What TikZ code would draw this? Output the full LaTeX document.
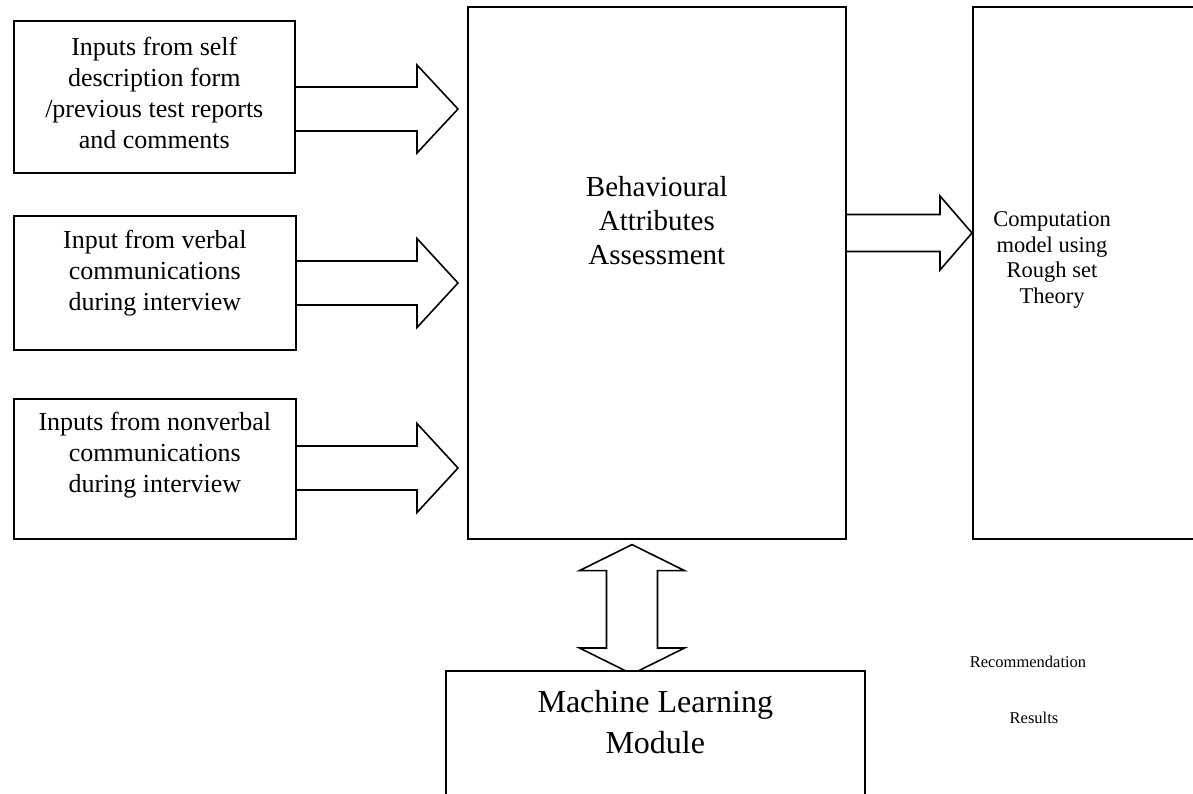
\documentclass[tikz,border=0pt]{standalone}
\usepackage{fontspec}
\setmainfont{Liberation Serif}
\usetikzlibrary{calc}
\pgfdeclarelayer{arrows}
\pgfsetlayers{arrows,main}

% block arrow pointing right: tail point, tip point, shaft half-width, head half-width, head length
\newcommand\rightblock[5]{%
  \draw[blk] ($(#1)+(0,-#3)$) -- ($(#2)+(-#5,-#3)$) -- ($(#2)+(-#5,-#4)$) -- (#2)
    -- ($(#2)+(-#5,#4)$) -- ($(#2)+(-#5,#3)$) -- ($(#1)+(0,#3)$);}

\begin{document}
\begin{tikzpicture}[x=1pt,y=-1pt,
  box/.style={draw, line width=1.6pt, fill=white, inner sep=0pt, anchor=north west},
  blk/.style={draw, line width=1.6pt, line join=miter},
  txt/.style={align=center, inner sep=0pt, font=\fontsize{26}{31}\selectfont},
  bigtxt/.style={align=center, inner sep=0pt, font=\fontsize{29}{34}\selectfont},
  mltxt/.style={align=center, inner sep=0pt, font=\fontsize{32}{41}\selectfont},
  rstxt/.style={align=center, inner sep=0pt, font=\fontsize{22.5}{25.5}\selectfont},
  smalltxt/.style={inner sep=0pt, font=\fontsize{16.5}{20}\selectfont}]
\useasboundingbox (0,0) rectangle (1193,793);
\clip (0,0) rectangle (1193,793);

% input boxes
\node[box, minimum width=281pt, minimum height=152pt] (in1) at (13,20) {};
\node[txt] at ($(in1.north)+(0,73)$) {Inputs from self\\description form\\/previous test reports\\and comments};
\node[box, minimum width=282pt, minimum height=134pt] (in2) at (13,215) {};
\node[txt] at ($(in2.north)+(0,58)$) {Input from verbal\\communications\\during interview};
\node[box, minimum width=282pt, minimum height=140pt] (in3) at (13,398) {};
\node[txt] at ($(in3.north)+(0,57)$) {Inputs from nonverbal\\communications\\during interview};

% assessment block
\node[box, minimum width=378pt, minimum height=532pt] (bb) at (467,6) {};
\node[bigtxt] at ($(bb.north)+(0,215)$) {Behavioural\\Attributes\\Assessment};

% rough set model (runs off the right edge)
\node[box, minimum width=260pt, minimum height=532pt] (rs) at (972,6) {};
\node[rstxt] at (1052,260) {Computation\\model using\\Rough set\\Theory};

% machine learning module (runs off the bottom edge)
\node[box, minimum width=419pt, minimum height=160pt] (ml) at (445,670) {};
\node[mltxt] at ($(ml.north)+(0,52)$) {Machine Learning\\Module};

% loose labels
\node[smalltxt] (rec) at (1028,662) {Recommendation};
\node[smalltxt] (res) at (1034,718) {Results};

% arrow end points
\coordinate (t1) at ($(bb.west |- 0,109)+(-9,0)$);
\coordinate (t2) at ($(bb.west |- 0,283)+(-9,0)$);
\coordinate (t3) at ($(bb.west |- 0,468)+(-9,0)$);
\coordinate (t4) at (rs.west |- 0,233);
\coordinate (up) at ($(bb.south west)+(165,5)$);
\coordinate (dn) at ($(up |- ml.north)+(0,4)$);

\begin{pgfonlayer}{arrows}
  \rightblock{in1.east |- t1}{t1}{22}{44}{41}
  \rightblock{in2.east |- t2}{t2}{22}{44.5}{41}
  \rightblock{in3.east |- t3}{t3}{22}{44.5}{41}
  \rightblock{bb.east |- t4}{t4}{18.5}{37}{32}
  % two-way arrow between assessment and learning module
  \draw[blk] (up) -- ($(up)+(52.5,26)$) -- ($(up)+(25.5,26)$) -- ($(dn)+(25.5,-26)$)
    -- ($(dn)+(52.5,-26)$) -- (dn) -- ($(dn)+(-52.5,-26)$) -- ($(dn)+(-25.5,-26)$)
    -- ($(up)+(-25.5,26)$) -- ($(up)+(-52.5,26)$) -- cycle;
\end{pgfonlayer}
\end{tikzpicture}
\end{document}
